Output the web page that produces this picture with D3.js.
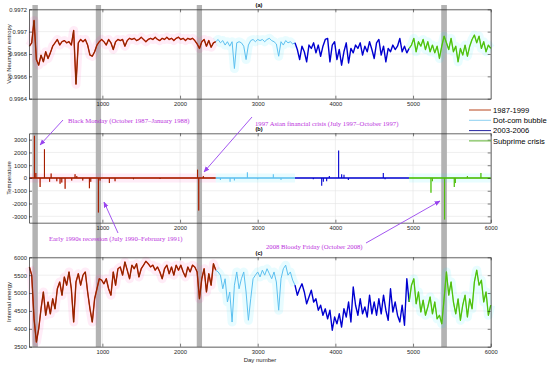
<!DOCTYPE html>
<html>
<head>
<meta charset="utf-8">
<script src="https://cdn.jsdelivr.net/npm/d3@7"></script>
<style>
  body { margin: 0; background: #fff; }
  svg { display: block; }
</style>
</head>
<body>
<div id="chart"></div>
<script>
// ---- data ----
const xDomain = [55, 6000];
const xTickValues = [1000, 2000, 3000, 4000, 5000, 6000];
const dayStep = 30;

const seriesNames = ["1987-1999", "Dot-com bubble", "2003-2006", "Subprime crisis"];
const seriesStart = [60, 2460, 3480, 4950];

// Von Neumann entropy, one value every 30 days from each series start
const entropyRed = [
  0.99687, 0.99690, 0.99710, 0.99675, 0.99670, 0.99679, 0.99673, 0.99682, 0.99676, 0.99681,
  0.99687, 0.99690, 0.99693, 0.99688, 0.99691, 0.99692, 0.99690, 0.99691, 0.99688, 0.99701,
  0.99653, 0.99690, 0.99693, 0.99691, 0.99693, 0.99688, 0.99679, 0.99678, 0.99682, 0.99688,
  0.99691, 0.99693, 0.99691, 0.99688, 0.99693, 0.99690, 0.99684, 0.99691, 0.99693, 0.99692,
  0.99693, 0.99687, 0.99692, 0.99694, 0.99693, 0.99694, 0.99692, 0.99693, 0.99695, 0.99693,
  0.99691, 0.99693, 0.99694, 0.99693, 0.99695, 0.99693, 0.99692, 0.99694, 0.99693, 0.99695,
  0.99693, 0.99694, 0.99692, 0.99694, 0.99695, 0.99693, 0.99694, 0.99692, 0.99694, 0.99693,
  0.99694, 0.99692, 0.99689, 0.99685, 0.99691, 0.99693, 0.99687, 0.99692, 0.99686, 0.99690,
  0.99691
];
const entropyCyan = [
  0.99691, 0.99693, 0.99690, 0.99692, 0.99688, 0.99691, 0.99687, 0.99691, 0.99667, 0.99690,
  0.99691, 0.99690, 0.99687, 0.99675, 0.99688, 0.99692, 0.99693, 0.99691, 0.99693, 0.99692,
  0.99693, 0.99691, 0.99693, 0.99694, 0.99692, 0.99691, 0.99689, 0.99678, 0.99691, 0.99688,
  0.99692, 0.99690, 0.99691, 0.99689, 0.99690
];
const entropyBlue = [
  0.99690, 0.99684, 0.99675, 0.99687, 0.99682, 0.99673, 0.99688, 0.99685, 0.99690, 0.99681,
  0.99688, 0.99678, 0.99687, 0.99693, 0.99694, 0.99673, 0.99688, 0.99691, 0.99675, 0.99684,
  0.99670, 0.99682, 0.99690, 0.99672, 0.99685, 0.99681, 0.99688, 0.99685, 0.99690, 0.99679,
  0.99687, 0.99682, 0.99691, 0.99684, 0.99676, 0.99690, 0.99693, 0.99679, 0.99687, 0.99673,
  0.99685, 0.99682, 0.99688, 0.99684, 0.99687, 0.99694, 0.99682, 0.99687, 0.99681, 0.99685
];
const entropyGreen = [
  0.99685, 0.99688, 0.99694, 0.99682, 0.99691, 0.99687, 0.99693, 0.99684, 0.99691, 0.99682,
  0.99688, 0.99681, 0.99687, 0.99676, 0.99687, 0.99696, 0.99690, 0.99684, 0.99694, 0.99682,
  0.99687, 0.99673, 0.99685, 0.99679, 0.99688, 0.99678, 0.99687, 0.99693, 0.99697, 0.99690,
  0.99696, 0.99685, 0.99691, 0.99682, 0.99688, 0.99685
];

// Internal energy, same day grid
const energyRed = [
  5730, 5500, 4280, 3630, 4000, 4560, 5030, 4380, 4750, 4420,
  4840, 4560, 5120, 5310, 4940, 5450, 5220, 5590, 5120, 4190,
  5310, 5540, 5220, 5500, 5590, 5030, 4560, 4190, 4840, 5120,
  5400, 5360, 5260, 5400, 5120, 4940, 5590, 5220, 5680, 5730,
  5500, 5870, 5640, 5400, 5780, 5680, 5820, 5450, 5680, 5780,
  5890, 5820, 5730, 5780, 5640, 5730, 5590, 5400, 5680, 5780,
  5540, 5730, 5500, 5780, 5640, 5780, 5590, 5450, 5730, 5590,
  5780, 5730, 5590, 4840, 5400, 5680, 5030, 5540, 5220, 5820,
  5640
];
const energyCyan = [
  5640, 5590, 5500, 5120, 5400, 4750, 5030, 4190, 5220, 5590,
  5120, 5400, 5590, 5030, 4240, 4840, 5400, 5500, 5590, 5450,
  5640, 5500, 5680, 5540, 5400, 5590, 5310, 4520, 5400, 5680,
  5780, 5500, 5590, 5360, 5220
];
const energyBlue = [
  5220, 4940, 5120, 5260, 5030, 4700, 4890, 5080, 4750, 4840,
  4520, 4660, 4380, 4560, 4280, 4520, 3960, 4330, 4140, 4420,
  4050, 4560, 4330, 4750, 4190, 5170, 4660, 4380, 4840, 4420,
  4610, 4330, 4940, 4420, 4750, 4380, 4840, 4420, 4940, 4520,
  4240, 5120, 4470, 4750, 4380, 4190, 4660, 4100, 5400, 4750
];
const energyGreen = [
  4750, 5220, 5400, 4700, 5030, 4470, 4800, 4380, 4610, 4890,
  4420, 4750, 4280, 4380, 4140, 4840, 5590, 4940, 5310, 4750,
  4420, 4840, 4240, 4660, 4940, 4330, 4840, 4560, 5310, 5640,
  5220, 5360, 4750, 5030, 4380, 4660
];

// Temperature: near zero apart from these spikes
const seriesEnd = [2460, 3480, 4950, 6000];
const tempRedDays = [125, 143, 198, 254, 320, 340, 413, 455, 477, 520, 605, 648, 670, 747, 833, 850, 949, 970, 1090, 1163, 1400, 1742, 2225, 2240, 2300];
const tempRedVals = [3300, 400, -700, 2250, -300, 350, -250, -450, -350, -850, -200, 300, 150, -200, -800, -300, -2700, -200, -400, -250, -100, -80, 650, -2550, 150];
const tempCyanDays = [2520, 2644, 2700, 2867, 3000, 3201, 3300];
const tempCyanVals = [-150, -300, -200, 450, -100, 300, -150];
const tempBlueDays = [3716, 3824, 3845, 3888, 3922, 4042, 4081, 4111, 4167, 4617, 4640];
const tempBlueVals = [-100, -600, -300, -250, 150, 2150, 300, 250, -150, 400, -100];
const tempGreenDays = [5231, 5250, 5406, 5531, 5545, 5700, 5874];
const tempGreenVals = [-1150, -250, -3250, -700, -400, 150, 400];

// crisis periods (day ranges) shaded in grey
const crisisStart = [99, 915, 2215, 5363];
const crisisEnd = [169, 983, 2283, 5436];

const crisisNotes = [
  "Black Monday (October 1987\u2013January 1988)",
  "1997 Asian financial crisis (July 1997\u2013October 1997)",
  "Early 1990s recession (July 1990\u2013February 1991)",
  "2008 Bloody Friday (October 2008)"
];

// ---- styles / layout ----
const W = 550, H = 366;
const axisColor = "#262626";
const gridColor = "#e4e4e4";
const seriesColor = ["#d81400", "#5cc0f0", "#0000d0", "#3edc00"];
const seriesWidth = [1.4, 1.0, 1.4, 1.3];
const seriesCore = ["#6e3000", null, null, "#6a9a20"];
const seriesHalo = ["#ff40b0", "#20e0ff", null, "#20e8ff"];
const legendColor = ["#b8441c", "#8cd0f0", "#2424a0", "#5cb030"];
const noteText = "#bb33dd";
const noteArrow = "#9944ee";

const svg = d3.select("#chart")
    .append("svg")
    .attr("width", W)
    .attr("height", H)
    .style("font-family", "'Liberation Sans', Arial, sans-serif");

const defs = svg.append("defs");
defs.append("marker")
    .attr("id", "arrow")
    .attr("viewBox", "0 0 10 10")
    .attr("refX", 9).attr("refY", 5)
    .attr("markerWidth", 6).attr("markerHeight", 6)
    .attr("markerUnits", "userSpaceOnUse")
    .attr("orient", "auto")
    .append("path")
    .attr("d", "M0,1 L10,5 L0,9 Z")
    .attr("fill", noteArrow);

const x = d3.scaleLinear().domain(xDomain).range([29, 490.7]);
const panelH = 89.4;

const panels = [
  { top: 9.3, domain: [0.9964, 0.9972], ticks: [0.9964, 0.9966, 0.9968, 0.997, 0.9972],
    fmt: d3.format(".4~f"), label: "Von Neumann entropy", title: "(a)" },
  { top: 133.3, domain: [-3500, 3500], ticks: [-3000, -2000, -1000, 0, 1000, 2000, 3000],
    fmt: d => String(d), label: "Temperature", title: "(b)" },
  { top: 257.3, domain: [3500, 6000], ticks: [3500, 4000, 4500, 5000, 5500, 6000],
    fmt: d => String(d), label: "Internal energy", title: "(c)" }
];
panels.forEach(p => {
  p.y = d3.scaleLinear().domain(p.domain).range([p.top + panelH, p.top]);
});

const gGrid = svg.append("g");
const gBands = svg.append("g");
const gData = svg.append("g");
const gAxes = svg.append("g");
const gNotes = svg.append("g");

// grid
panels.forEach(p => {
  gGrid.append("g")
      .selectAll("line.v")
      .data(xTickValues)
      .join("line")
      .attr("x1", d => x(d)).attr("x2", d => x(d))
      .attr("y1", p.top).attr("y2", p.top + panelH)
      .attr("stroke", gridColor).attr("stroke-width", 0.6);
  gGrid.append("g")
      .selectAll("line.h")
      .data(p.ticks)
      .join("line")
      .attr("x1", x.range()[0]).attr("x2", x.range()[1])
      .attr("y1", d => p.y(d)).attr("y2", d => p.y(d))
      .attr("stroke", gridColor).attr("stroke-width", 0.6);
});

// crisis bands
gBands.selectAll("rect")
    .data(crisisStart)
    .join("rect")
    .attr("x", d => x(d))
    .attr("width", (d, i) => x(crisisEnd[i]) - x(d))
    .attr("y", 5)
    .attr("height", 342)
    .attr("fill", "#b3b3b3");

// continuous series (entropy and energy)
function drawSeries(p, arrays) {
  arrays.forEach((vals, s) => {
    const line = d3.line()
        .x((d, i) => x(seriesStart[s] + i * dayStep))
        .y(d => p.y(d));
    if (seriesHalo[s]) {
      gData.append("path").datum(vals).attr("d", line)
          .attr("fill", "none").attr("stroke", seriesHalo[s])
          .attr("stroke-opacity", 0.1).attr("stroke-width", 9)
          .attr("stroke-linejoin", "round");
    }
  });
  arrays.forEach((vals, s) => {
    const line = d3.line()
        .x((d, i) => x(seriesStart[s] + i * dayStep))
        .y(d => p.y(d));
    gData.append("path").datum(vals).attr("d", line)
        .attr("fill", "none").attr("stroke", seriesColor[s])
        .attr("stroke-width", seriesWidth[s])
        .attr("stroke-linejoin", "round");
    if (seriesCore[s]) {
      gData.append("path").datum(vals).attr("d", line)
          .attr("fill", "none").attr("stroke", seriesCore[s])
          .attr("stroke-width", s === 0 ? 0.8 : 0.5)
          .attr("stroke-linejoin", "round");
    }
  });
}
drawSeries(panels[0], [entropyRed, entropyCyan, entropyBlue, entropyGreen]);
drawSeries(panels[2], [energyRed, energyCyan, energyBlue, energyGreen]);

// temperature: zero baseline plus spikes
const tempDays = [tempRedDays, tempCyanDays, tempBlueDays, tempGreenDays];
const tempVals = [tempRedVals, tempCyanVals, tempBlueVals, tempGreenVals];
const pT = panels[1];
tempDays.forEach((days, s) => {
  if (seriesHalo[s]) {
    gData.append("line")
        .attr("x1", x(seriesStart[s])).attr("x2", x(seriesEnd[s]))
        .attr("y1", pT.y(0)).attr("y2", pT.y(0))
        .attr("stroke", seriesHalo[s]).attr("stroke-opacity", 0.1).attr("stroke-width", 9);
  }
  gData.append("line")
      .attr("x1", x(seriesStart[s])).attr("x2", x(seriesEnd[s]))
      .attr("y1", pT.y(0)).attr("y2", pT.y(0))
      .attr("stroke", seriesColor[s]).attr("stroke-width", 1.4);
  gData.append("g")
      .selectAll("line")
      .data(days)
      .join("line")
      .attr("x1", d => x(d)).attr("x2", d => x(d))
      .attr("y1", pT.y(0))
      .attr("y2", (d, i) => pT.y(tempVals[s][i]))
      .attr("stroke", seriesColor[s]).attr("stroke-width", 1.1);
  if (seriesCore[s]) {
    gData.append("line")
        .attr("x1", x(seriesStart[s])).attr("x2", x(seriesEnd[s]))
        .attr("y1", pT.y(0)).attr("y2", pT.y(0))
        .attr("stroke", seriesCore[s]).attr("stroke-width", 0.7);
    gData.append("g")
        .selectAll("line")
        .data(days)
        .join("line")
        .attr("x1", d => x(d)).attr("x2", d => x(d))
        .attr("y1", pT.y(0))
        .attr("y2", (d, i) => pT.y(tempVals[s][i]))
        .attr("stroke", seriesCore[s]).attr("stroke-width", 0.5);
  }
});

// axes (MATLAB style box with inward ticks)
panels.forEach((p, k) => {
  const g = gAxes.append("g");
  const bottomTicks = k === 0 ? xTickValues.slice(0, 5) : xTickValues;
  const styleAxis = sel => {
    sel.selectAll("path").attr("stroke", axisColor).attr("stroke-width", 0.7);
    sel.selectAll("line").attr("stroke", axisColor).attr("stroke-width", 0.6);
    sel.selectAll("text").attr("fill", axisColor).style("font-size", "5.8px");
  };
  g.append("g")
      .attr("transform", `translate(0,${p.top + panelH})`)
      .call(d3.axisBottom(x).tickValues(bottomTicks).tickFormat(d => String(d))
        .tickSize(-3).tickSizeOuter(0).tickPadding(3))
      .call(styleAxis);
  g.append("g")
      .attr("transform", `translate(0,${p.top})`)
      .call(d3.axisTop(x).tickValues(xTickValues).tickFormat("").tickSize(-3).tickSizeOuter(0))
      .call(styleAxis);
  g.append("g")
      .attr("transform", `translate(${x.range()[0]},0)`)
      .call(d3.axisLeft(p.y).tickValues(p.ticks).tickFormat(p.fmt)
        .tickSize(-3).tickSizeOuter(0).tickPadding(2))
      .call(styleAxis);
  g.append("g")
      .attr("transform", `translate(${x.range()[1]},0)`)
      .call(d3.axisRight(p.y).tickValues(p.ticks).tickFormat("").tickSize(-3).tickSizeOuter(0))
      .call(styleAxis);

  // y label
  g.append("text")
      .attr("transform", `translate(9,${p.top + panelH / 2}) rotate(-90)`)
      .attr("text-anchor", "middle")
      .attr("dy", "0.35em")
      .attr("fill", axisColor)
      .style("font-size", "6px")
      .text(p.label);

  // panel title
  g.append("text")
      .attr("x", 259)
      .attr("y", p.top - 2)
      .attr("text-anchor", "middle")
      .attr("fill", "#000")
      .style("font-size", "5.6px")
      .style("font-weight", "bold")
      .text(p.title);
});

// x label
gAxes.append("text")
    .attr("x", 260)
    .attr("y", 361.5)
    .attr("text-anchor", "middle")
    .attr("fill", axisColor)
    .style("font-size", "6px")
    .text("Day number");

// legend
const legend = gNotes.append("g");
seriesNames.forEach((name, i) => {
  const ly = 110 + i * 10.3;
  legend.append("line")
      .attr("x1", 469).attr("x2", 491)
      .attr("y1", ly).attr("y2", ly)
      .attr("stroke", legendColor[i]).attr("stroke-width", 1);
  legend.append("text")
      .attr("x", 493)
      .attr("y", ly + 2.7)
      .attr("fill", "#000")
      .style("font-size", "7.6px")
      .text(name);
});

// crisis annotations
const notePos = [[68, 123], [255, 125.5], [49, 241], [266, 249]];
const arrowPos = [[63, 120, 40, 145], [252, 117, 204, 172], [118, 233, 104, 202], [366, 243, 440, 201]];
crisisNotes.forEach((t, i) => {
  gNotes.append("text")
      .attr("x", notePos[i][0])
      .attr("y", notePos[i][1])
      .attr("fill", noteText)
      .style("font-family", "'Liberation Serif', 'Times New Roman', serif")
      .style("font-size", "6.7px")
      .text(t);
  const a = arrowPos[i];
  gNotes.append("line")
      .attr("x1", a[0]).attr("y1", a[1])
      .attr("x2", a[2]).attr("y2", a[3])
      .attr("stroke", noteArrow)
      .attr("stroke-width", 0.9)
      .attr("marker-end", "url(#arrow)");
});
</script>
</body>
</html>
